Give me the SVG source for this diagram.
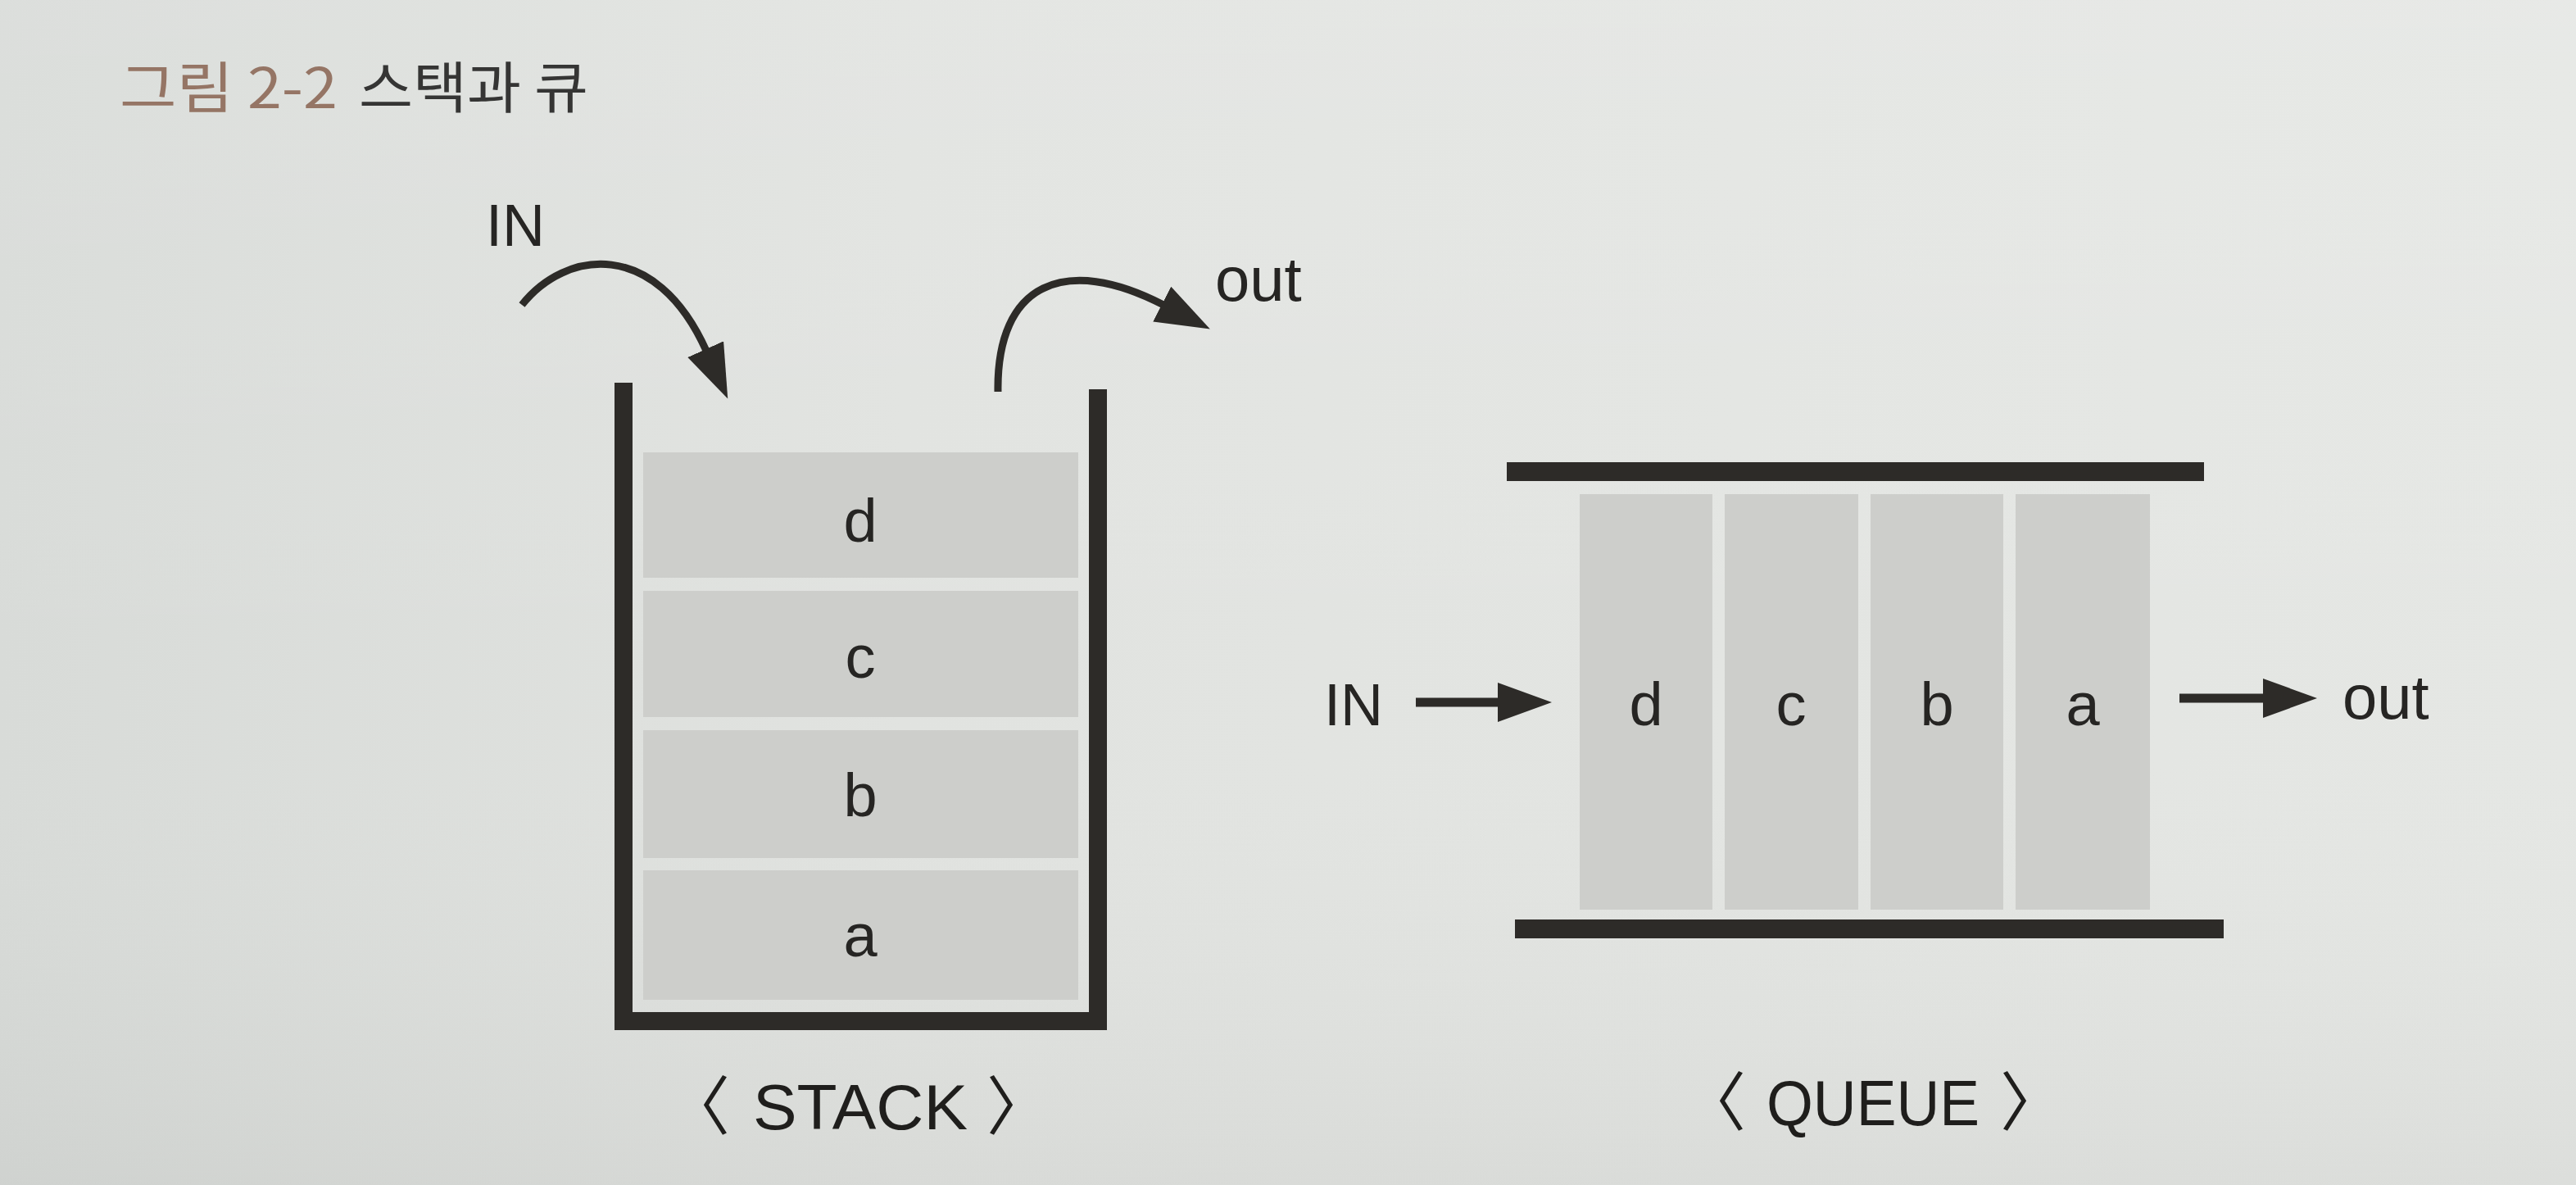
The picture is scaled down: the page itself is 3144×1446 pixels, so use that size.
<svg xmlns="http://www.w3.org/2000/svg" width="3144" height="1446" viewBox="0 0 3144 1446">
<style>
.lbl{font-family:"Liberation Sans",Arial,sans-serif;fill:#262523}
.cell{fill:#cdcecb}
.bar{fill:#2d2b28}
.line{stroke:#2d2b28;fill:none}
.ttl{font-family:"Noto Sans CJK KR","Noto Sans",sans-serif;font-size:68px}
.cap{font-family:"Liberation Sans","Noto Sans CJK KR",sans-serif;font-size:78px;fill:#1f1e1c}
</style>
<defs>
<linearGradient id="bg" x1="0" y1="0" x2="1" y2="0">
<stop offset="0" stop-color="#d8dbd8"/>
<stop offset="0.35" stop-color="#e1e3e0"/>
<stop offset="1" stop-color="#e5e7e4"/>
</linearGradient>
<linearGradient id="bgv" x1="0" y1="0" x2="0" y2="1">
<stop offset="0" stop-color="#ffffff" stop-opacity="0.10"/>
<stop offset="0.6" stop-color="#ffffff" stop-opacity="0"/>
<stop offset="1" stop-color="#000000" stop-opacity="0.04"/>
</linearGradient>
<marker id="head" markerUnits="userSpaceOnUse" markerWidth="70" markerHeight="50" refX="2" refY="24" orient="auto">
<path d="M0,0 L66,24 L0,48 Z" fill="#2d2b28"/>
</marker>
</defs>
<rect x="0" y="0" width="3144" height="1446" fill="url(#bg)"/>
<rect x="0" y="0" width="3144" height="1446" fill="url(#bgv)"/>

<g id="title">
<text class="ttl" y="132"><tspan x="146" fill="#957565" textLength="266" lengthAdjust="spacingAndGlyphs">그림 2-2</tspan><tspan x="438" fill="#353534" textLength="280" lengthAdjust="spacingAndGlyphs">스택과 큐</tspan></text>
</g>

<g id="stack">
<path class="line" d="M761,467 V1246 H1340 V475" stroke-width="22" stroke-linejoin="miter"/>
<g id="stack-d"><rect class="cell" x="785" y="552" width="531" height="153"/><text class="lbl" x="1050" y="661" font-size="74" text-anchor="middle">d</text></g>
<g id="stack-c"><rect class="cell" x="785" y="721" width="531" height="154"/><text class="lbl" x="1050" y="827" font-size="74" text-anchor="middle">c</text></g>
<g id="stack-b"><rect class="cell" x="785" y="891" width="531" height="156"/><text class="lbl" x="1050" y="996" font-size="74" text-anchor="middle">b</text></g>
<g id="stack-a"><rect class="cell" x="785" y="1062" width="531" height="158"/><text class="lbl" x="1050" y="1167" font-size="74" text-anchor="middle">a</text></g>
<text class="lbl" x="593" y="300" font-size="72">IN</text>
<text class="lbl" x="1483" y="367" font-size="76">out</text>
<text class="cap" y="1378"><tspan x="852" text-anchor="middle">〈</tspan><tspan x="1050" text-anchor="middle" textLength="262" lengthAdjust="spacingAndGlyphs">STACK</tspan><tspan x="1243" text-anchor="middle">〉</tspan></text>
</g>

<g id="queue">
<rect class="bar" x="1839" y="564" width="851" height="23"/>
<rect class="bar" x="1849" y="1122" width="865" height="23"/>
<g id="queue-d"><rect class="cell" x="1928" y="603" width="162" height="507"/><text class="lbl" x="2009" y="885" font-size="74" text-anchor="middle">d</text></g>
<g id="queue-c"><rect class="cell" x="2105" y="603" width="163" height="507"/><text class="lbl" x="2186" y="885" font-size="74" text-anchor="middle">c</text></g>
<g id="queue-b"><rect class="cell" x="2283" y="603" width="162" height="507"/><text class="lbl" x="2364" y="885" font-size="74" text-anchor="middle">b</text></g>
<g id="queue-a"><rect class="cell" x="2460" y="603" width="164" height="507"/><text class="lbl" x="2542" y="885" font-size="74" text-anchor="middle">a</text></g>
<text class="lbl" x="1616" y="885" font-size="72">IN</text>
<text class="lbl" x="2859" y="877" font-size="76">out</text>
<text class="cap" y="1373"><tspan x="2092" text-anchor="middle">〈</tspan><tspan x="2286" text-anchor="middle" textLength="260" lengthAdjust="spacingAndGlyphs">QUEUE</tspan><tspan x="2480" text-anchor="middle">〉</tspan></text>
</g>

<g id="connectors">
<path class="line" d="M637,372 C690,305 800,290 862,428" stroke-width="9" marker-end="url(#head)"/>
<path class="line" d="M1218,478 C1216,345 1300,310 1420,372" stroke-width="9" marker-end="url(#head)"/>
<path class="line" d="M1728,857 H1830" stroke-width="11" marker-end="url(#head)"/>
<path class="line" d="M2660,852 H2764" stroke-width="11" marker-end="url(#head)"/>
</g>
</svg>
